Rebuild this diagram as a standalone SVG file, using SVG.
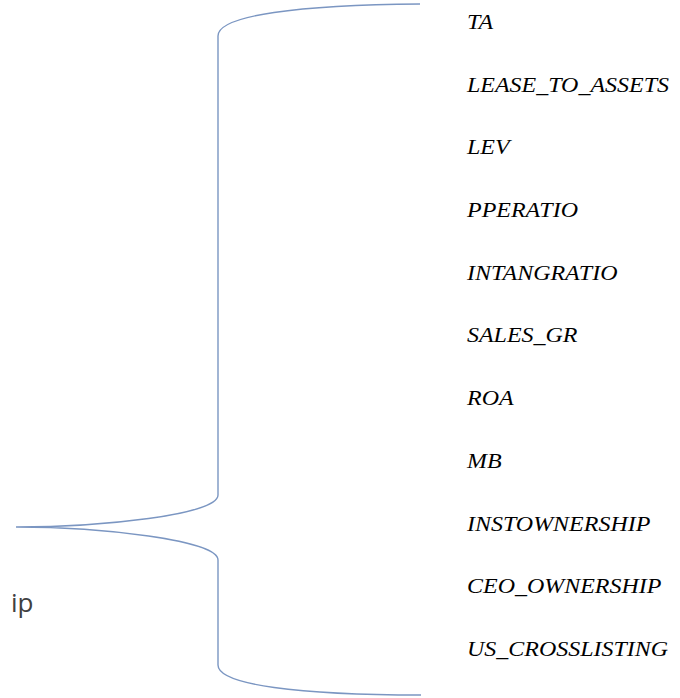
<svg xmlns="http://www.w3.org/2000/svg" width="680" height="698" viewBox="0 0 680 698">
<style>
.v{font-family:"Liberation Serif","Times New Roman",serif;font-style:italic;font-size:22px;fill:#000}
.lbl{font-family:"Open Sans","DejaVu Sans",sans-serif;font-size:26px;fill:#404040}
.br{fill:none;stroke:#7b96c2;stroke-width:1.4}
</style>
<rect width="680" height="698" fill="#fff"/>
<g id="connectors">
<path class="br" d="M420,4 C300,5 218,15 218,36 L218,495 C218,515 100,527 16,527 C100,527 218,540 218,560 L218,665 C218,685 300,695 421,695"/>
</g>
<g id="root"><text class="lbl" x="11" y="612">ip</text></g>
<g id="n1"><text class="v" transform="translate(467,29) scale(1.09,1)">TA</text></g>
<g id="n2"><text class="v" transform="translate(467,92) scale(1.09,1)">LEASE_TO_ASSETS</text></g>
<g id="n3"><text class="v" transform="translate(467,154) scale(1.09,1)">LEV</text></g>
<g id="n4"><text class="v" transform="translate(467,217) scale(1.09,1)">PPERATIO</text></g>
<g id="n5"><text class="v" transform="translate(467,280) scale(1.09,1)">INTANGRATIO</text></g>
<g id="n6"><text class="v" transform="translate(467,342) scale(1.09,1)">SALES_GR</text></g>
<g id="n7"><text class="v" transform="translate(467,405) scale(1.09,1)">ROA</text></g>
<g id="n8"><text class="v" transform="translate(467,468) scale(1.09,1)">MB</text></g>
<g id="n9"><text class="v" transform="translate(467,531) scale(1.09,1)">INSTOWNERSHIP</text></g>
<g id="n10"><text class="v" transform="translate(467,593) scale(1.09,1)">CEO_OWNERSHIP</text></g>
<g id="n11"><text class="v" transform="translate(467,656) scale(1.09,1)">US_CROSSLISTING</text></g>
</svg>
